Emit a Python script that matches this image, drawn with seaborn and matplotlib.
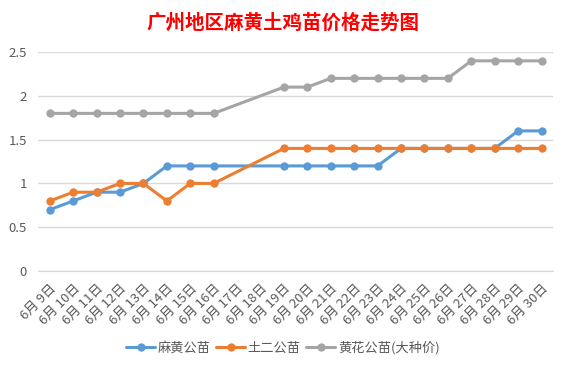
"""Guangzhou chick price trend chart."""

import matplotlib.pyplot as plt
import numpy as np
import pandas as pd
import seaborn as sns

days = list(range(9, 31))
date_labels = [f"6月 {d}日" for d in days]

mahuang = [0.7, 0.8, 0.9, 0.9, 1.0, 1.2, 1.2, 1.2, np.nan, np.nan, 1.2,
           1.2, 1.2, 1.2, 1.2, 1.4, 1.4, 1.4, 1.4, 1.4, 1.6, 1.6]
tuer = [0.8, 0.9, 0.9, 1.0, 1.0, 0.8, 1.0, 1.0, np.nan, np.nan, 1.4,
        1.4, 1.4, 1.4, 1.4, 1.4, 1.4, 1.4, 1.4, 1.4, 1.4, 1.4]
huanghua = [1.8, 1.8, 1.8, 1.8, 1.8, 1.8, 1.8, 1.8, np.nan, np.nan, 2.1,
            2.1, 2.2, 2.2, 2.2, 2.2, 2.2, 2.2, 2.4, 2.4, 2.4, 2.4]

series_names = ["麻黄公苗", "土二公苗", "黄花公苗(大种价)"]
colors = ["#5B9BD5", "#ED7D31", "#A5A5A5"]

sns.set_style("white")
plt.rcParams["font.family"] = ["Noto Sans CJK SC", "DejaVu Sans"]

df = pd.DataFrame({
    "pos": list(range(len(days))) * 3,
    "price": mahuang + tuer + huanghua,
    "series": np.repeat(series_names, len(days)),
}).dropna()

fig = plt.figure(figsize=(5.68, 3.72), dpi=100)
ax = fig.add_axes([0.067, 0.2715, 0.907, 0.5885])

sns.lineplot(
    data=df,
    x="pos",
    y="price",
    hue="series",
    hue_order=series_names,
    palette=colors,
    marker="o",
    markersize=6,
    markeredgewidth=0,
    linewidth=2.2,
    ax=ax,
)

text_color = "#595959"
ax.set_xlim(-0.5, len(days) - 0.5)
ax.set_ylim(0, 2.5)
ax.set_yticks([0, 0.5, 1, 1.5, 2, 2.5])
ax.set_yticklabels(["0", "0.5", "1", "1.5", "2", "2.5"])
ax.yaxis.grid(True, color="#D9D9D9", linewidth=1)
ax.set_axisbelow(True)

ax.set_xticks(range(len(days)))
ax.set_xticklabels(date_labels, rotation=45, ha="right", rotation_mode="anchor")
ax.set_xticks(np.arange(-0.5, len(days), 1), minor=True)
ax.tick_params(axis="x", which="major", length=0, pad=8, labelsize=9.5,
               colors=text_color)
ax.tick_params(axis="x", which="minor", length=4, color="#D9D9D9", width=1)
ax.tick_params(axis="y", length=0, labelsize=9.5, colors=text_color, pad=8)

for side in ["left", "right", "top"]:
    ax.spines[side].set_visible(False)
ax.spines["bottom"].set_color("#D9D9D9")

ax.set_xlabel("")
ax.set_ylabel("")

fig.suptitle("广州地区麻黄土鸡苗价格走势图", color="red", fontsize=14,
             fontweight="bold", x=0.498, y=0.965)

handles, labels = ax.get_legend_handles_labels()
ax.legend(
    handles, labels,
    loc="center", bbox_to_anchor=(0.498, 0.064), bbox_transform=fig.transFigure,
    ncol=3, frameon=False, fontsize=9.5, handlelength=2.2, columnspacing=0.4,
    handletextpad=0.2, labelcolor=text_color,
)

fig.savefig("out.png", dpi=100)
plt.close(fig)
